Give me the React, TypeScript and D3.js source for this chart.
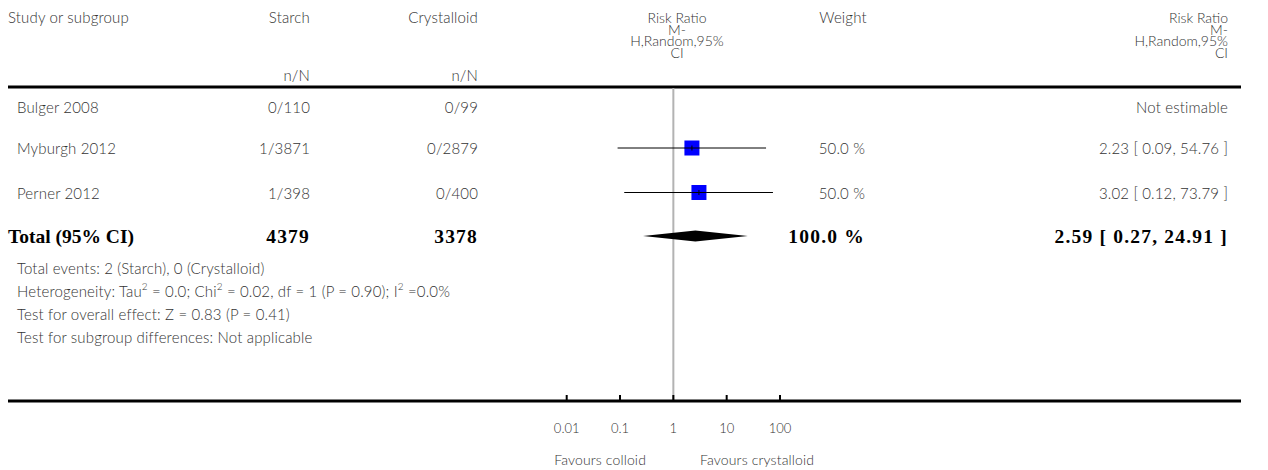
import React from "react";
import * as d3 from "d3";

const W = 1268;
const H = 470;

const studies = ["Bulger 2008", "Myburgh 2012", "Perner 2012"];
const starchNN = ["0/110", "1/3871", "1/398"];
const crystalloidNN = ["0/99", "0/2879", "0/400"];
const rr: (number | null)[] = [null, 2.23, 3.02];
const rrLo: (number | null)[] = [null, 0.09, 0.12];
const rrHi: (number | null)[] = [null, 54.76, 73.79];
const weights: (number | null)[] = [null, 50.0, 50.0];

const totalLabel = "Total (95% CI)";
const totalStarch = 4379;
const totalCrystalloid = 3378;
const totalRR = 2.59;
const totalLo = 0.27;
const totalHi = 24.91;
const totalWeight = 100.0;

const tickValues = [0.01, 0.1, 1, 10, 100];
const tickLabels = ["0.01", "0.1", "1", "10", "100"];

const footer = [
  "Total events: 2 (Starch), 0 (Crystalloid)",
  "HET",
  "Test for overall effect: Z = 0.83 (P = 0.41)",
  "Test for subgroup differences: Not applicable",
];

const SANS = "Lato, 'Open Sans', sans-serif";
const SERIF = "'Liberation Serif', 'DejaVu Serif', serif";
const TXT = "#333";

export default function App() {
  const x = d3.scaleLog().domain([0.01, 100]).range([566.7, 780]);
  const rowY = [107, 148, 192.5];
  const totalY = 236;
  const footY = [268, 291, 314, 337];
  const axisY = 401;
  const colStarch = 310;
  const colCryst = 478;
  const colRR = 677;
  const colWeight = 865;
  const colRight = 1228;
  const fs = 15;
  const hfs = 14;
  const ls = 0.15;

  const fmt = (v: number) => v.toFixed(2);
  const fmtW = (v: number) => v.toFixed(1) + " %";
  const box = 15;

  const diamond = `M${x(totalLo)},${totalY} L${x(totalRR)},${totalY - 5.5} L${x(totalHi)},${totalY} L${x(totalRR)},${totalY + 5.5} Z`;

  const headerLines = ["Risk Ratio", "M-", "H,Random,95%", "CI"];
  const headerY = [17, 29, 40.5, 52];

  return (
    <svg width={W} height={H} style={{ position: "absolute", left: 0, top: 0 }}>
      <rect width={W} height={H} fill="#fff" />
      {/* header */}
      <g fontFamily={SANS} fontSize={fs} fontWeight={300} letterSpacing={ls} fill={TXT} dominantBaseline="central">
        <text x={8} y={17}>Study or subgroup</text>
        <text x={colStarch} y={17} textAnchor="end">Starch</text>
        <text x={colCryst} y={17} textAnchor="end">Crystalloid</text>
        <text x={colStarch} y={75} textAnchor="end">n/N</text>
        <text x={colCryst} y={75} textAnchor="end">n/N</text>
        <text x={843} y={17} textAnchor="middle">Weight</text>
      </g>
      <g fontFamily={SANS} fontSize={hfs} fontWeight={300} fill={TXT} dominantBaseline="central">
        {headerLines.map((t, i) => (
          <text key={"h" + i} x={colRR} y={headerY[i]} textAnchor="middle">{t}</text>
        ))}
        {headerLines.map((t, i) => (
          <text key={"r" + i} x={colRight} y={headerY[i]} textAnchor="end">{t}</text>
        ))}
      </g>
      <line x1={8} x2={1241} y1={87} y2={87} stroke="#000" strokeWidth={3} />

      {/* reference line */}
      <line x1={x(1)} x2={x(1)} y1={88} y2={axisY} stroke="#b3b3b3" strokeWidth={2} />

      {/* study rows */}
      <g fontFamily={SANS} fontSize={fs} fontWeight={300} letterSpacing={ls} fill={TXT} dominantBaseline="central">
        {studies.map((s, i) => (
          <g key={s}>
            <text x={17} y={rowY[i]}>{s}</text>
            <text x={colStarch} y={rowY[i]} textAnchor="end">{starchNN[i]}</text>
            <text x={colCryst} y={rowY[i]} textAnchor="end">{crystalloidNN[i]}</text>
            {weights[i] != null && (
              <text x={colWeight} y={rowY[i]} textAnchor="end">{fmtW(weights[i] as number)}</text>
            )}
            <text x={colRight} y={rowY[i]} textAnchor="end">
              {rr[i] == null
                ? "Not estimable"
                : `${fmt(rr[i] as number)} [ ${fmt(rrLo[i] as number)}, ${fmt(rrHi[i] as number)} ]`}
            </text>
          </g>
        ))}
      </g>
      {studies.map((s, i) =>
        rr[i] == null ? null : (
          <g key={"m" + s}>
            <line x1={x(rrLo[i] as number)} x2={x(rrHi[i] as number)} y1={rowY[i]} y2={rowY[i]} stroke="#000" strokeWidth={1} />
            <rect x={x(rr[i] as number) - box / 2} y={rowY[i] - box / 2} width={box} height={box} fill="#0000ff" />
            <line x1={x(rr[i] as number) - box / 2} x2={x(rr[i] as number) + box / 2} y1={rowY[i]} y2={rowY[i]} stroke="#000" strokeWidth={1} />
            <line x1={x(rr[i] as number)} x2={x(rr[i] as number)} y1={rowY[i] - 2.5} y2={rowY[i] + 2.5} stroke="#000" strokeWidth={1} />
          </g>
        )
      )}

      {/* total row */}
      <g fontFamily={SERIF} fontSize={19.5} fontWeight="bold" fill="#000" dominantBaseline="central">
        <text x={8} y={totalY}>{totalLabel}</text>
        <g letterSpacing={1.2}>
          <text x={colStarch} y={totalY} textAnchor="end">{totalStarch}</text>
          <text x={colCryst} y={totalY} textAnchor="end">{totalCrystalloid}</text>
          <text x={colWeight} y={totalY} textAnchor="end">{fmtW(totalWeight)}</text>
          <text x={colRight} y={totalY} textAnchor="end">{`${fmt(totalRR)} [ ${fmt(totalLo)}, ${fmt(totalHi)} ]`}</text>
        </g>
      </g>
      <path d={diamond} fill="#000" />

      {/* footer */}
      <g fontFamily={SANS} fontSize={fs} fontWeight={300} letterSpacing={ls} fill={TXT} dominantBaseline="central">
        {footer.map((t, i) =>
          t === "HET" ? (
            <text key={i} x={17} y={footY[i]}>
              Heterogeneity: Tau
              <tspan fontSize={10} dy={-5}>2</tspan>
              <tspan dy={5}> = 0.0; Chi</tspan>
              <tspan fontSize={10} dy={-5}>2</tspan>
              <tspan dy={5}> = 0.02, df = 1 (P = 0.90); I</tspan>
              <tspan fontSize={10} dy={-5}>2</tspan>
              <tspan dy={5}> =0.0%</tspan>
            </text>
          ) : (
            <text key={i} x={17} y={footY[i]}>{t}</text>
          )
        )}
      </g>

      {/* axis */}
      <line x1={8} x2={1241} y1={axisY} y2={axisY} stroke="#000" strokeWidth={3} />
      {tickValues.map((v, i) => (
        <g key={"t" + i}>
          <line x1={x(v)} x2={x(v)} y1={axisY - 6} y2={axisY} stroke="#000" strokeWidth={2} />
          <text x={x(v)} y={428} textAnchor="middle" dominantBaseline="central" fontFamily={SANS} fontWeight={300} fontSize={13} fill={TXT}>
            {tickLabels[i]}
          </text>
        </g>
      ))}
      <text x={646} y={459} textAnchor="end" dominantBaseline="central" fontFamily={SANS} fontWeight={300} fontSize={14} letterSpacing={ls} fill={TXT}>Favours colloid</text>
      <text x={700} y={459} dominantBaseline="central" fontFamily={SANS} fontWeight={300} fontSize={14} letterSpacing={ls} fill={TXT}>Favours crystalloid</text>
    </svg>
  );
}
